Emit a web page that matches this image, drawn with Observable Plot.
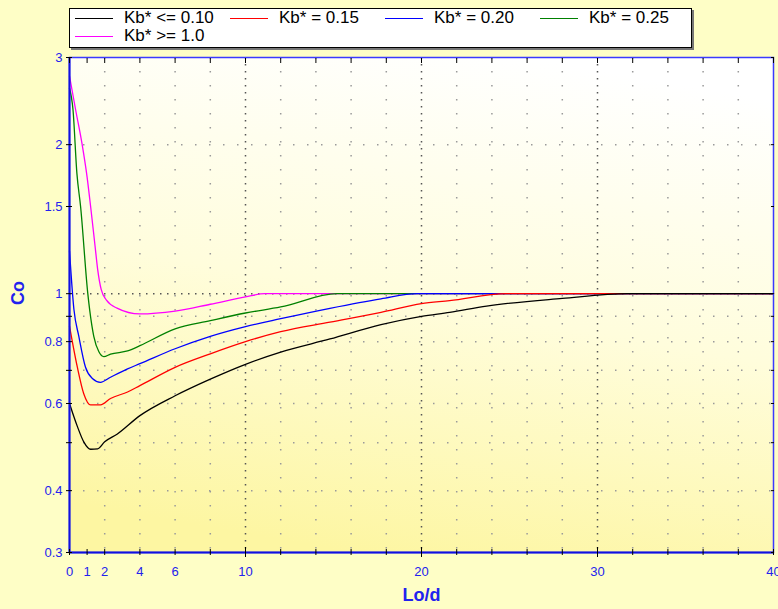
<!DOCTYPE html>
<html>
<head>
<meta charset="utf-8">
<script src="https://cdn.jsdelivr.net/npm/d3@7"></script>
<script src="https://cdn.jsdelivr.net/npm/@observablehq/plot@0.6"></script>
<style>
  html, body { margin: 0; padding: 0; background: #fefec6; }
  #wrap { position: relative; width: 778px; height: 609px; font-family: "Liberation Sans", Arial, sans-serif; }
  #legend { position: absolute; left: 69px; top: 8px; width: 621px; height: 38px; background: #fff; border: 1px solid #000; box-shadow: 2px 2px 0 #777; }
  .item { position: absolute; height: 18px; display: flex; align-items: center; font-size: 17px; color: #000; white-space: nowrap; }
  .swatch { width: 38px; height: 0; border-top: 1.5px solid; margin-right: 11px; }
</style>
</head>
<body>
<div id="wrap"></div>
<script>
// ---- data ----
const seriesLabels = ["Kb* <= 0.10", "Kb* = 0.15", "Kb* = 0.20", "Kb* = 0.25", "Kb* >= 1.0"];
const seriesColors = ["#000000", "#ff0000", "#0000ff", "#008000", "#ff00ff"];

const kb010X = [0, 0.44, 0.81, 1.2, 1.6, 2.0, 2.7, 4, 6, 8, 10, 12, 14.8, 17.7, 20, 21.6, 23.7, 28, 31.7, 40];
const kb010Y = [0.60, 0.54, 0.502, 0.485, 0.486, 0.502, 0.52, 0.567, 0.622, 0.672, 0.72, 0.762, 0.81, 0.866, 0.90, 0.917, 0.944, 0.978, 1.0, 1.0];

const kb015X = [0, 0.44, 0.81, 1.2, 1.76, 2.33, 3.3, 4, 6, 8, 10, 12, 14.8, 17.7, 20, 21.6, 24.8, 40];
const kb015Y = [0.86, 0.712, 0.628, 0.596, 0.596, 0.614, 0.633, 0.652, 0.71, 0.756, 0.80, 0.838, 0.876, 0.917, 0.955, 0.968, 1.0, 1.0];

const kb020X = [0, 0.25, 0.53, 0.91, 1.3, 1.76, 2.33, 3.3, 4, 6, 8, 10, 12, 14.8, 17.7, 19.75, 40];
const kb020Y = [1.22, 0.93, 0.82, 0.71, 0.674, 0.662, 0.678, 0.705, 0.722, 0.774, 0.82, 0.858, 0.89, 0.934, 0.976, 1.0, 1.0];

const kb025X = [0, 0.2, 0.42, 0.63, 1.04, 1.15, 1.38, 1.67, 1.95, 2.33, 3.3, 4, 6, 8, 10, 12, 15.2, 40];
const kb025Y = [2.6, 2.35, 1.75, 1.5, 1.0, 0.925, 0.82, 0.763, 0.746, 0.755, 0.766, 0.785, 0.849, 0.882, 0.914, 0.94, 1.0, 1.0];

const kb100X = [0, 0.35, 0.72, 1.0, 1.2, 1.45, 1.6, 1.8, 2.1, 2.7, 4, 6, 8, 10, 11.1, 40];
const kb100Y = [2.75, 2.35, 2.0, 1.72, 1.5, 1.25, 1.12, 1.02, 0.97, 0.935, 0.91, 0.922, 0.952, 0.985, 1.0, 1.0];

const xTicks = [0, 1, 2, 4, 6, 8, 10, 12, 14, 16, 18, 20, 22, 24, 26, 28, 30, 32, 34, 36, 38, 40];
const xMajor = [10, 20, 30];
const xLabels = [0, 1, 2, 4, 6, 10, 20, 30, 40];
const xMinorGrid = [2, 4, 6, 8, 12, 14, 16, 18, 22, 24, 26, 28, 32, 34, 36, 38];
const yTicks = [0.3, 0.4, 0.5, 0.6, 0.7, 0.8, 0.9, 1, 1.5, 2, 3];
const yLabels = [0.3, 0.4, 0.6, 0.8, 1, 1.5, 2, 3];
const yMinorGrid = [0.4, 0.5, 0.6, 0.7, 0.8, 0.9, 2];
const yMajorGrid = [1];
const xTitle = "Lo/d";
const yTitle = "Co";

// ---- build table ----
const seriesX = [kb010X, kb015X, kb020X, kb025X, kb100X];
const seriesY = [kb010Y, kb015Y, kb020Y, kb025Y, kb100Y];
const rows = [];
seriesLabels.forEach((s, i) => seriesX[i].forEach((x, j) => rows.push({series: s, x, y: seriesY[i][j]})));

const blue = "#2222ee";
const lineMarks = seriesLabels.map((s, i) => i).reverse().map(i =>
  Plot.line(rows.filter(r => r.series === seriesLabels[i]), {x: "x", y: "y", stroke: seriesColors[i], strokeWidth: 1.3, curve: "monotone-x"})
);

const chart = Plot.plot({
  width: 778, height: 609,
  marginLeft: 69, marginRight: 5, marginTop: 57, marginBottom: 57,
  style: {background: "transparent", fontFamily: "'Liberation Sans', Arial, sans-serif"},
  x: {domain: [0, 40], label: null},
  y: {type: "log", domain: [0.3, 3], label: null},
  marks: [
    Plot.frame({fill: "url(#bggrad)", stroke: "none"}),
    Plot.ruleX(xMinorGrid, {stroke: "#9a9a9a", strokeWidth: 1.5, strokeDasharray: "1.5,12.5"}),
    Plot.ruleY(yMinorGrid, {stroke: "#9a9a9a", strokeWidth: 1.5, strokeDasharray: "1.5,12.5"}),
    Plot.ruleX(xMajor, {stroke: "#555", strokeWidth: 1.5, strokeDasharray: "1.5,5.5"}),
    Plot.ruleY(yMajorGrid, {stroke: "#555", strokeWidth: 1.5, strokeDasharray: "1.5,5.5"}),
    ...lineMarks,
    Plot.frame({stroke: "#3a3aff", strokeWidth: 1.5}),
    Plot.ruleX([0], {stroke: "#1010e0", strokeWidth: 2}),
    Plot.ruleY([0.3], {stroke: "#1010e0", strokeWidth: 2}),
    // ticks
    Plot.axisY({ticks: yTicks, text: null, tickSize: 6, dx: 3, stroke: "#000", label: null}),
    Plot.axisY({ticks: yTicks, anchor: "right", text: null, tickSize: 3, dx: -3, stroke: "#000", label: null}),
    Plot.axisX({ticks: xTicks, text: null, tickSize: 6, dy: -3, stroke: "#000", label: null}),
    Plot.axisX({ticks: xMajor, text: null, tickSize: 10, dy: -5, stroke: "#000", label: null}),
    Plot.axisX({ticks: xTicks, anchor: "top", text: null, tickSize: 5, dy: 5, stroke: "#000", label: null}),
    // labels
    Plot.axisY({ticks: yLabels, tickSize: 0, tickPadding: 7, tickFormat: d => String(d), fill: blue, fontSize: 13, label: null}),
    Plot.axisX({ticks: xLabels, tickSize: 0, tickPadding: 14, tickFormat: d => String(d), fill: blue, fontSize: 13, label: null}),
    Plot.text([xTitle], {frameAnchor: "bottom", dy: 48, fill: blue, fontSize: 18, fontWeight: "bold"}),
    Plot.text([yTitle], {frameAnchor: "left", dx: -51, rotate: -90, fill: blue, fontSize: 18, fontWeight: "bold"})
  ]
});

// gradient for plot area
const ns = "http://www.w3.org/2000/svg";
const defs = document.createElementNS(ns, "defs");
defs.innerHTML = `<linearGradient id="bggrad" x1="0.65" y1="0" x2="0.4" y2="1">
  <stop offset="0" stop-color="#ffffff"/>
  <stop offset="0.5" stop-color="#fffddc"/>
  <stop offset="1" stop-color="#fdf6a2"/>
</linearGradient>`;
chart.insertBefore(defs, chart.firstChild);

const wrap = document.getElementById("wrap");
wrap.appendChild(chart);

// legend
const legend = document.createElement("div");
legend.id = "legend";
seriesLabels.forEach((s, i) => {
  const it = document.createElement("div");
  it.className = "item";
  const row = i < 4 ? 0 : 1;
  const col = i < 4 ? i : 0;
  it.style.left = (5 + col * 155) + "px";
  it.style.top = (row === 0 ? 0 : 18) + "px";
  const sw = document.createElement("span");
  sw.className = "swatch";
  sw.style.borderTopColor = seriesColors[i];
  const tx = document.createElement("span");
  tx.textContent = s;
  it.appendChild(sw); it.appendChild(tx);
  legend.appendChild(it);
});
wrap.appendChild(legend);
</script>
</body>
</html>
